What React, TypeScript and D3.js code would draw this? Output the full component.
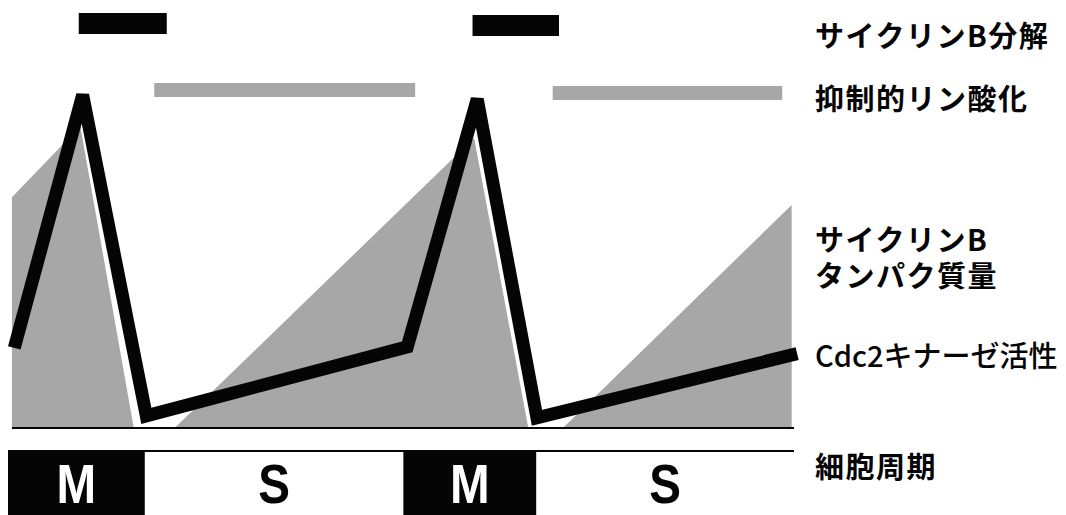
import { useEffect, useRef } from 'react';
import * as d3 from 'd3';

// time runs 0..100 across one and a half cycles, level is 0..100 (arbitrary units)
const cdc2Time = [0.8, 9.5, 17.6, 50.8, 59.7, 67.3, 100.4];
const cdc2Level = [23.7, 98.5, 3.6, 24, 97.3, 3, 22];

const cyclinTime = [0.5, 0.5, 9.2, 16.0, 21.2, 59.3, 66.2, 70.6, 99.7, 99.7];
const cyclinLevel = [0, 68.3, 89.3, 0, 0, 85.8, 0, 0, 66, 0];

const degradationSpans: [number, number][] = [
  [9.0, 20.2],
  [59.1, 70.1],
];
const phosphorylationSpans: [number, number][] = [
  [18.6, 51.8],
  [69.3, 98.5],
];

const phaseNames = ['M', 'S', 'M', 'S'];
const phaseBounds = [0, 17.4, 50.3, 67.2, 100];

// each label may wrap onto several lines
const labels: string[][] = [
  ['サイクリンB分解'],
  ['抑制的リン酸化'],
  ['サイクリンB', 'タンパク質量'],
  ['Cdc2キナーゼ活性'],
  ['細胞周期'],
];

const WIDTH = 1066;
const HEIGHT = 515;
const JP_FONT = '"Noto Sans CJK JP", "Noto Sans", sans-serif';
const SCREEN = '#a7a7a7';
const INK = '#050505';

export default function App() {
  const svgRef = useRef<SVGSVGElement>(null);

  useEffect(() => {
    if (!svgRef.current) return;
    const svg = d3.select(svgRef.current);
    svg.selectAll('*').remove();

    const x = d3.scaleLinear().domain([0, 100]).range([8, 794]);
    const y = d3.scaleLinear().domain([0, 100]).range([428, 90]);
    const baseY = y(0);

    // cyclin B protein amount
    const cyclinPts = cyclinTime.map((t, i) => [x(t), y(cyclinLevel[i])] as [number, number]);
    svg
      .append('path')
      .attr('d', d3.line().curve(d3.curveLinearClosed)(cyclinPts))
      .attr('fill', SCREEN);

    // baseline
    svg
      .append('line')
      .attr('x1', x(0.5))
      .attr('x2', x(100))
      .attr('y1', baseY)
      .attr('y2', baseY)
      .attr('stroke', INK)
      .attr('stroke-width', 2);

    // Cdc2 kinase activity
    const cdc2Pts = cdc2Time.map((t, i) => [x(t), y(cdc2Level[i])] as [number, number]);
    svg
      .append('path')
      .attr('d', d3.line()(cdc2Pts))
      .attr('fill', 'none')
      .attr('stroke', INK)
      .attr('stroke-width', 13)
      .attr('stroke-linejoin', 'miter')
      .attr('stroke-linecap', 'butt');

    // top bars
    svg
      .append('g')
      .selectAll('rect')
      .data(degradationSpans)
      .join('rect')
      .attr('x', (d) => x(d[0]))
      .attr('width', (d) => x(d[1]) - x(d[0]))
      .attr('y', (d, i) => 13 + i * 2)
      .attr('height', 21)
      .attr('fill', INK);

    svg
      .append('g')
      .selectAll('rect')
      .data(phosphorylationSpans)
      .join('rect')
      .attr('x', (d) => x(d[0]))
      .attr('width', (d) => x(d[1]) - x(d[0]))
      .attr('y', (d, i) => 83 + i * 3)
      .attr('height', 14)
      .attr('fill', SCREEN);

    // cell cycle strip
    const stripTop = 451;
    svg
      .append('line')
      .attr('x1', x(0))
      .attr('x2', x(100))
      .attr('y1', stripTop)
      .attr('y2', stripTop)
      .attr('stroke', INK)
      .attr('stroke-width', 2);

    const phases = phaseNames.map((name, i) => ({ name, start: phaseBounds[i], end: phaseBounds[i + 1] }));
    const ph = svg.append('g').selectAll('g').data(phases).join('g');
    ph.filter((d) => d.name === 'M')
      .append('rect')
      .attr('x', (d) => x(d.start))
      .attr('width', (d) => x(d.end) - x(d.start))
      .attr('y', stripTop)
      .attr('height', HEIGHT - stripTop)
      .attr('fill', INK);
    ph.append('text')
      .attr('transform', (d) => `translate(${(x(d.start) + x(d.end)) / 2},503) scale(0.85,1)`)
      .attr('text-anchor', 'middle')
      .attr('fill', (d) => (d.name === 'M' ? '#fff' : INK))
      .style('font-family', '"Liberation Sans", Arial, sans-serif')
      .style('font-weight', '700')
      .style('font-size', '56px')
      .text((d) => d.name);

    // right-hand labels
    const labelY = [34, 97, 238, 354, 465];
    const lineGap = 36;
    const lab = svg
      .append('g')
      .selectAll('text')
      .data(labels)
      .join('text')
      .attr('x', 815)
      .attr('y', (d, i) => labelY[i])
      .attr('dominant-baseline', 'central')
      .attr('fill', INK)
      .style('font-family', JP_FONT)
      .style('font-size', '29px')
      .style('letter-spacing', (d) => (d[0].startsWith('Cdc2') ? '0px' : '1.5px'))
      .style('font-weight', (d) => (d[0].startsWith('Cdc2') ? '500' : '700'));
    lab
      .selectAll('tspan')
      .data((d) => d)
      .join('tspan')
      .attr('x', 815)
      .attr('dy', (d, i) => (i === 0 ? 0 : lineGap))
      .text((d) => d);
  }, []);

  return (
    <svg
      ref={svgRef}
      width={WIDTH}
      height={HEIGHT}
      viewBox={`0 0 ${WIDTH} ${HEIGHT}`}
      style={{ position: 'absolute', left: 0, top: 0, background: '#fff' }}
    />
  );
}
